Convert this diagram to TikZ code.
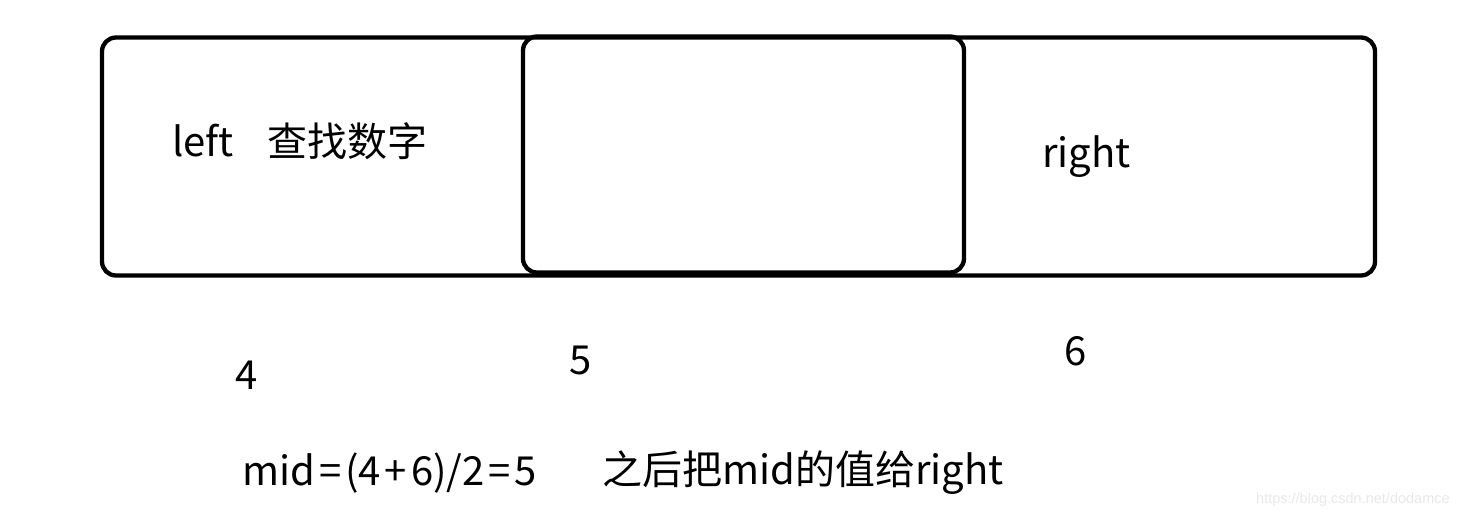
\documentclass[tikz,border=0pt]{standalone}
\usepackage{fontspec}
\setmainfont{Noto Sans CJK SC}
\newfontfamily\markfont{Liberation Sans}
\usepackage{tikz}

\newcommand{\opgap}{\hspace{4pt}}

\begin{document}
\begin{tikzpicture}[x=1pt, y=-1pt,
	box/.style={shape=rectangle, draw=black, line width=4.3pt, rounded corners=14pt, inner sep=0pt},
	lbl/.style={anchor=base west, inner sep=0pt, font=\fontsize{40}{48}\selectfont}]
	
	\useasboundingbox (0, 0) rectangle (1476, 515);
	
	\node[box, minimum width=1273pt, minimum height=238pt] (whole) at (738.5, 156.5) {};
	\node[box, minimum width=441pt, minimum height=236pt] (midpart) at (743.5, 154.5) {};
	
	\node[lbl] (left) at (172, 156)     {left\hspace{34pt}查找数字};
	\node[lbl] (right) at (1042, 167)   {right};
	
	\node[lbl, anchor=base] (l4) at (246.5, 389)    {4};
	\node[lbl, anchor=base] (m5) at (581, 374)      {5};
	\node[lbl, anchor=base] (r6) at (1075.5, 365)   {6};
	
	\node[lbl] (calc) at (242, 485)     {mid\opgap=\opgap(4\opgap+\opgap6)/2\opgap=\opgap5};
	\node[lbl] (note) at (602, 484)     {之后把mid的值给right};
	
	\node[anchor=base west, inner sep=0pt, text=black!9, font=\markfont\fontsize{14.5}{17}\selectfont] (mark) at (1256, 503) {https://blog.csdn.net/dodamce};
	
\end{tikzpicture}
\end{document}
